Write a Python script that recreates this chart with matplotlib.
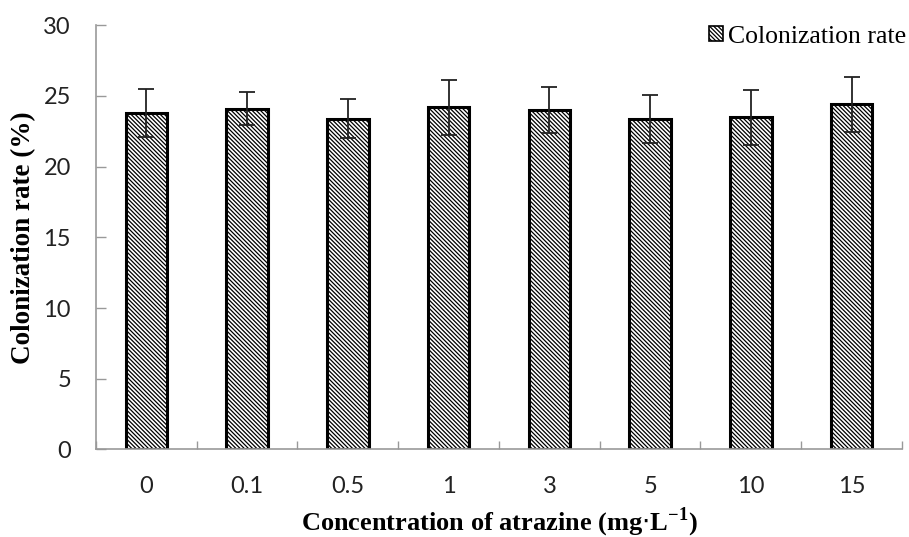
import matplotlib.pyplot as plt
import numpy as np

# Colonization rate at each atrazine concentration
concentrations = ['0', '0.1', '0.5', '1', '3', '5', '10', '15']
colonization = [23.8, 24.1, 23.4, 24.2, 24.0, 23.4, 23.5, 24.4]
errors = [1.7, 1.15, 1.35, 1.95, 1.6, 1.7, 1.95, 1.95]

plt.rcParams['hatch.linewidth'] = 0.9

fig = plt.figure(figsize=(9.09, 5.37), dpi=100)
ax = fig.add_axes([0.1056, 0.163, 0.8867, 0.79])

x = np.arange(len(concentrations))
ax.bar(x, colonization, width=0.41, color='white', edgecolor='black',
       linewidth=2.2, hatch='\\' * 8, label='Colonization rate', zorder=2)
ax.errorbar(x, colonization, yerr=errors, fmt='none', ecolor='#222222',
            elinewidth=1.3, capsize=6, capthick=1.3, zorder=3)

ax.set_xlim(-0.5, len(concentrations) - 0.5)
ax.set_ylim(0, 30)
ax.set_yticks(range(0, 31, 5))

# category ticks sit on the boundaries, labels in the middle
ax.set_xticks(np.arange(-0.5, len(concentrations), 1.0))
ax.set_xticklabels([])
ax.set_xticks(x, minor=True)
ax.set_xticklabels(concentrations, minor=True)
ax.tick_params(axis='x', which='major', direction='in', length=6,
               color='#999999', width=1)
ax.tick_params(axis='x', which='minor', length=0, pad=19,
               labelsize=17, labelcolor='#222222')
ax.tick_params(axis='y', direction='in', length=7, color='#999999',
               width=1, pad=18, labelsize=17, labelcolor='#222222')
for lab in ax.get_xticklabels(minor=True) + ax.get_yticklabels():
    lab.set_fontfamily('Lato')

for side in ('top', 'right'):
    ax.spines[side].set_visible(False)
for side in ('left', 'bottom'):
    ax.spines[side].set_color('#999999')
    ax.spines[side].set_linewidth(1.2)

ax.set_xlabel(r'Concentration of atrazine (mg$\cdot$L$^{\mathregular{-1}}$)',
              fontfamily='Liberation Serif', fontweight='bold', fontsize=19,
              labelpad=6)
ax.set_ylabel('Colonization rate (%)', fontfamily='Liberation Serif',
              fontweight='bold', fontsize=19.5, labelpad=5)

leg = ax.legend(loc='upper right', bbox_to_anchor=(1.024, 1.035), frameon=False,
                prop={'family': 'Liberation Serif', 'size': 18.5},
                handlelength=0.55, handleheight=0.55, handletextpad=0.2,
                borderpad=0.1)
for h in leg.legend_handles:
    h.set_linewidth(1.2)

fig.savefig('out.png', dpi=100)
